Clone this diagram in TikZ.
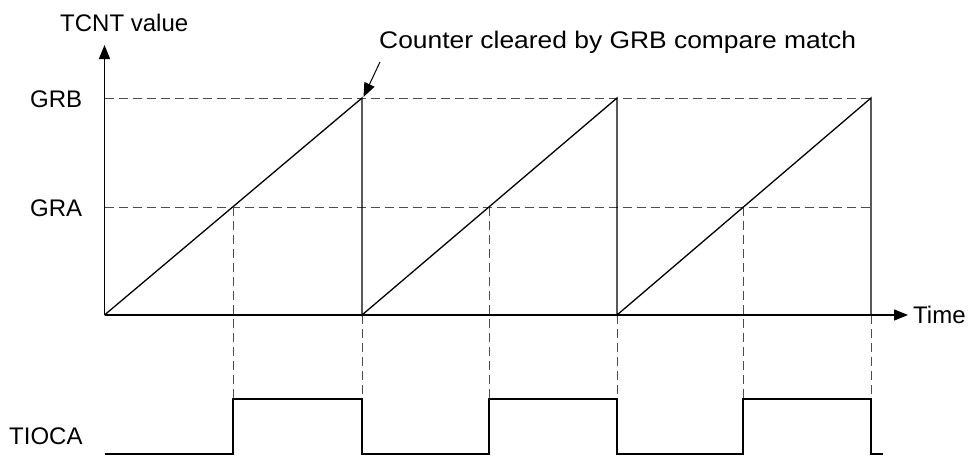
\documentclass[tikz,border=0pt]{standalone}
\usepackage{fontspec}
\setmainfont{Liberation Sans}
\usetikzlibrary{arrows.meta}
\begin{document}
\begin{tikzpicture}[x=1pt,y=-1pt,
  solidline/.style={line width=1.3pt,black},
  dashline/.style={line width=1pt,draw=black!70,dash pattern=on 9pt off 5pt},
  lbl/.style={inner sep=0pt,anchor=base west,font=\fontsize{24}{28}\selectfont},
  tip/.style={-{Triangle[length=14pt,width=11pt]}}]
\useasboundingbox (0,0) rectangle (970,456);
% key coordinates
\coordinate (O) at (104.5,315);
\coordinate (Ytop) at (104.5,45);
\coordinate (Xend) at (908,315);
\coordinate (B1) at (362,98);  \coordinate (Z1) at (362,315);
\coordinate (B2) at (617,98);  \coordinate (Z2) at (617,315);
\coordinate (B3) at (871,98);  \coordinate (Z3) at (871,315);
\coordinate (Bl) at (104.5,98);
\coordinate (Al) at (104.5,207); \coordinate (Ar) at (871,207);
\coordinate (A1) at (233,207); \coordinate (A2) at (489,207); \coordinate (A3) at (743,207);
% TIOCA levels
\coordinate (L0) at (104.5,454);
\coordinate (R1) at (233,454);  \coordinate (H1) at (233,399);
\coordinate (F1) at (362,399);  \coordinate (G1) at (362,454);
\coordinate (R2) at (489,454);  \coordinate (H2) at (489,399);
\coordinate (F2) at (617,399);  \coordinate (G2) at (617,454);
\coordinate (R3) at (743,454);  \coordinate (H3) at (743,399);
\coordinate (F3) at (871,399);  \coordinate (G3) at (871,454);
\coordinate (Lend) at (883,454);
% dashed reference lines
\draw[dashline] (Bl) -- (B3);
\draw[dashline] (Al) -- (Ar);
\draw[dashline] (A1) -- (H1);
\draw[dashline] (A2) -- (H2);
\draw[dashline] (A3) -- (H3);
\draw[dashline] (Z1) -- (F1);
\draw[dashline] (Z2) -- (F2);
\draw[dashline] (Z3) -- (F3);
% axes
\draw[solidline,tip] (O) -- (Ytop);
\draw[solidline,tip] (O) -- (Xend);
% sawtooth
\draw[solidline] (O) -- (B1) -- (Z1) -- (B2) -- (Z2) -- (B3) -- (Z3);
% TIOCA waveform
\draw[solidline] (L0) -- (R1) -- (H1) -- (F1) -- (G1) -- (R2) -- (H2) -- (F2) -- (G2) -- (R3) -- (H3) -- (F3) -- (G3) -- (Lend);
% labels
\node[lbl] (tcnt) at (60,31) {TCNT value};
\node[lbl] (grb) at (30,107) {GRB};
\node[lbl] (gra) at (30,216) {GRA};
\node[lbl] (time) at (913,323) {Time};
\node[lbl] (tioca) at (9,444) {TIOCA};
\node[lbl,xscale=1.1] (note) at (379,48) {Counter cleared by GRB compare match};
\coordinate (noteTail) at (380,62);
\draw[line width=1pt,tip] (noteTail) -- (363.5,97);
\end{tikzpicture}
\end{document}
